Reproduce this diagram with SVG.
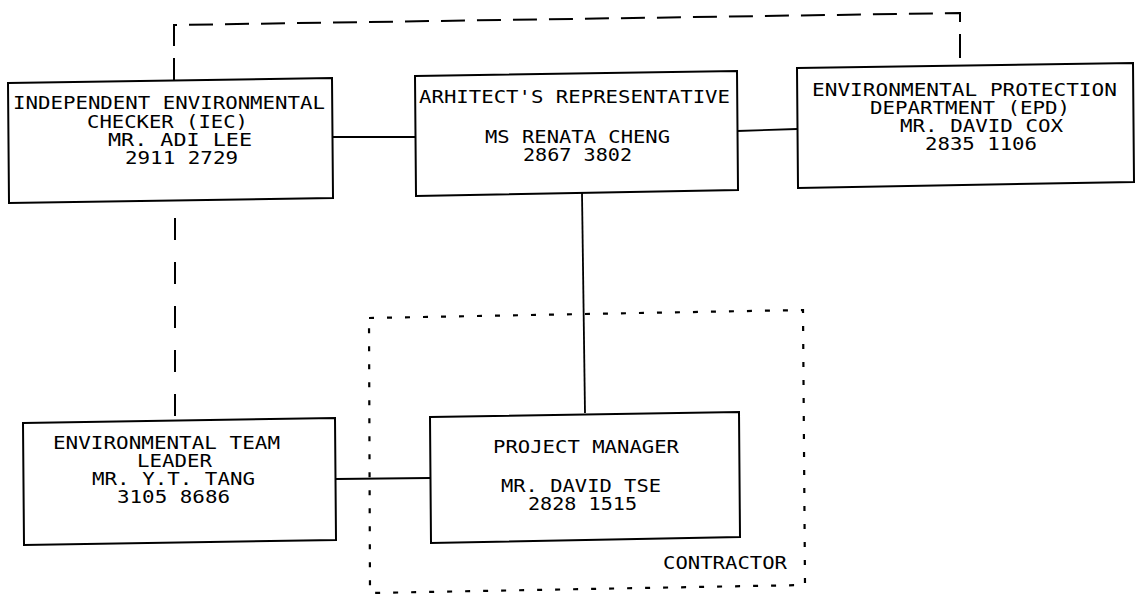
<svg xmlns="http://www.w3.org/2000/svg" width="1140" height="599" viewBox="0 0 1140 599">
<style>
  .box { fill: #ffffff; stroke: #000000; stroke-width: 2; stroke-linejoin: miter; }
  .lbl { font-family: "DejaVu Sans Mono", "Liberation Mono", monospace; font-size: 17px; fill: #000000; }
  .solid { fill: none; stroke: #000000; stroke-width: 1.8; }
  .dash { fill: none; stroke: #000000; stroke-width: 2; stroke-dasharray: 24 12; }
  .dash2 { fill: none; stroke: #000000; stroke-width: 2; stroke-dasharray: 22 22; stroke-dashoffset: 29; }
  .dots { fill: none; stroke: #000000; stroke-width: 2.2; stroke-dasharray: 5 13; }
</style>
<rect x="0" y="0" width="1140" height="599" fill="#ffffff"/>

<g id="contractor">
  <path class="dots" d="M369,318 L803,310 L805,585 L370,593 Z"/>
  <text class="lbl" x="663" y="569" textLength="124" lengthAdjust="spacingAndGlyphs">CONTRACTOR</text>
</g>

<g id="connectors">
  <path class="solid" d="M333,137 L415,137"/>
  <path class="solid" d="M737,131 L797,129"/>
  <path class="solid" d="M582,193 L585,413"/>
  <path class="solid" d="M336,479 L430,478"/>
  <path class="dash" d="M174,82 L174,25 L960,13 L960,66"/>
  <path class="dash2" d="M175,203 L175,420"/>
</g>

<g id="iec">
  <path class="box" d="M8,83 L332,78 L333,198 L9,203 Z"/>
  <text class="lbl" x="13" y="109" textLength="312" lengthAdjust="spacingAndGlyphs">INDEPENDENT ENVIRONMENTAL</text>
  <text class="lbl" x="87" y="128" textLength="161" lengthAdjust="spacingAndGlyphs">CHECKER (IEC)</text>
  <text class="lbl" x="108" y="146" textLength="144" lengthAdjust="spacingAndGlyphs">MR. ADI LEE</text>
  <text class="lbl" x="125" y="164" textLength="113" lengthAdjust="spacingAndGlyphs">2911 2729</text>
</g>

<g id="architect">
  <path class="box" d="M415,76 L737,71 L738,190 L416,196 Z"/>
  <text class="lbl" x="419" y="103" textLength="311" lengthAdjust="spacingAndGlyphs">ARHITECT'S REPRESENTATIVE</text>
  <text class="lbl" x="485" y="143" textLength="185" lengthAdjust="spacingAndGlyphs">MS RENATA CHENG</text>
  <text class="lbl" x="523" y="161" textLength="109" lengthAdjust="spacingAndGlyphs">2867 3802</text>
</g>

<g id="epd">
  <path class="box" d="M797,68 L1133,63 L1134,182 L798,188 Z"/>
  <text class="lbl" x="812" y="96" textLength="305" lengthAdjust="spacingAndGlyphs">ENVIRONMENTAL PROTECTION</text>
  <text class="lbl" x="870" y="114" textLength="200" lengthAdjust="spacingAndGlyphs">DEPARTMENT (EPD)</text>
  <text class="lbl" x="900" y="132" textLength="163" lengthAdjust="spacingAndGlyphs">MR. DAVID COX</text>
  <text class="lbl" x="925" y="150" textLength="112" lengthAdjust="spacingAndGlyphs">2835 1106</text>
</g>

<g id="etl">
  <path class="box" d="M23,423 L335,418 L336,540 L24,545 Z"/>
  <text class="lbl" x="53" y="449" textLength="227" lengthAdjust="spacingAndGlyphs">ENVIRONMENTAL TEAM</text>
  <text class="lbl" x="137" y="467" textLength="75" lengthAdjust="spacingAndGlyphs">LEADER</text>
  <text class="lbl" x="92" y="485" textLength="163" lengthAdjust="spacingAndGlyphs">MR. Y.T. TANG</text>
  <text class="lbl" x="117" y="503" textLength="113" lengthAdjust="spacingAndGlyphs">3105 8686</text>
</g>

<g id="pm">
  <path class="box" d="M430,417 L739,412 L740,537 L431,543 Z"/>
  <text class="lbl" x="493" y="453" textLength="186" lengthAdjust="spacingAndGlyphs">PROJECT MANAGER</text>
  <text class="lbl" x="501" y="492" textLength="160" lengthAdjust="spacingAndGlyphs">MR. DAVID TSE</text>
  <text class="lbl" x="528" y="510" textLength="109" lengthAdjust="spacingAndGlyphs">2828 1515</text>
</g>
</svg>
